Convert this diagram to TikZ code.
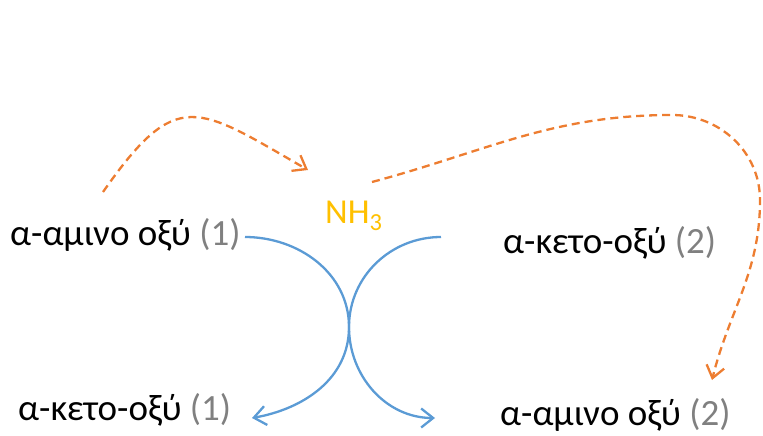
\documentclass[tikz,border=0pt]{standalone}
\usepackage{fontspec}
\setmainfont{Carlito}
\usepackage{tikz}
\usetikzlibrary{arrows.meta, positioning}
\definecolor{arcblue}{RGB}{91,155,213}
\definecolor{nhorange}{RGB}{237,125,49}
\definecolor{nhgold}{RGB}{255,192,0}
\definecolor{idxgray}{RGB}{128,128,128}
\newcommand{\idxno}[1]{{\color{idxgray}(#1)}}

\begin{document}
\begin{tikzpicture}[x=1pt,y=1pt,
  % etichette degli acidi, ancorate alla linea di base
  acid/.style={font=\fontsize{37}{44}\selectfont,inner sep=0pt,anchor=base west},
  amine/.style={font=\fontsize{35}{42}\selectfont\color{nhgold},inner sep=0pt,anchor=base west},
  conv/.style={arcblue,line width=2.3pt,-{Straight Barb[length=12pt,width=19pt]}},
  transfer/.style={nhorange,line width=2.3pt,dash pattern=on 8pt off 5pt,
    -{Straight Barb[length=12pt,width=18pt]}}]

  \useasboundingbox (0,0) rectangle (763,-436);

  \node[acid](am1) at (10,-245) {α-αμινο οξύ \idxno{1}};
  \node[acid,below=175pt of am1.base west,anchor=base west,xshift=8pt](ke1) {α-κετο-οξύ \idxno{1}};
  \node[acid](ke2) at (503,-253) {α-κετο-οξύ \idxno{2}};
  \node[acid,below=172pt of ke2.base west,anchor=base west,xshift=-3pt](am2) {α-αμινο οξύ \idxno{2}};
  \node[amine](nh3) at (325,-223) {NH\textsubscript{3}};

  \coordinate (cross) at (349,-327);
  \coordinate (in1) at (245,-237);
  \coordinate (out1) at (252,-418);
  \coordinate (in2) at (441,-237);
  \coordinate (out2) at (435,-418);
  \coordinate (src) at (103,-192);
  \coordinate (nhin) at (308,-170);
  \coordinate (nhout) at (372,-182);
  \coordinate (top) at (672,-115);
  \coordinate (side) at (760,-200);
  \coordinate (dst) at (712,-380);

  % i due archi che si incrociano
  \draw[conv](in1)to[out=0,in=90](cross)to[out=-90,in=10](out1);
  \draw[conv](in2)to[out=180,in=90](cross)to[out=-90,in=180](out2);

  % trasferimento del gruppo amminico
  \draw[transfer](src)to[out=55,in=150,looseness=1.6](nhin);
  \draw[transfer](nhout)to[out=15,in=180](top)
    to[out=0,in=90](side)to[out=-90,in=76](dst);
\end{tikzpicture}
\end{document}
